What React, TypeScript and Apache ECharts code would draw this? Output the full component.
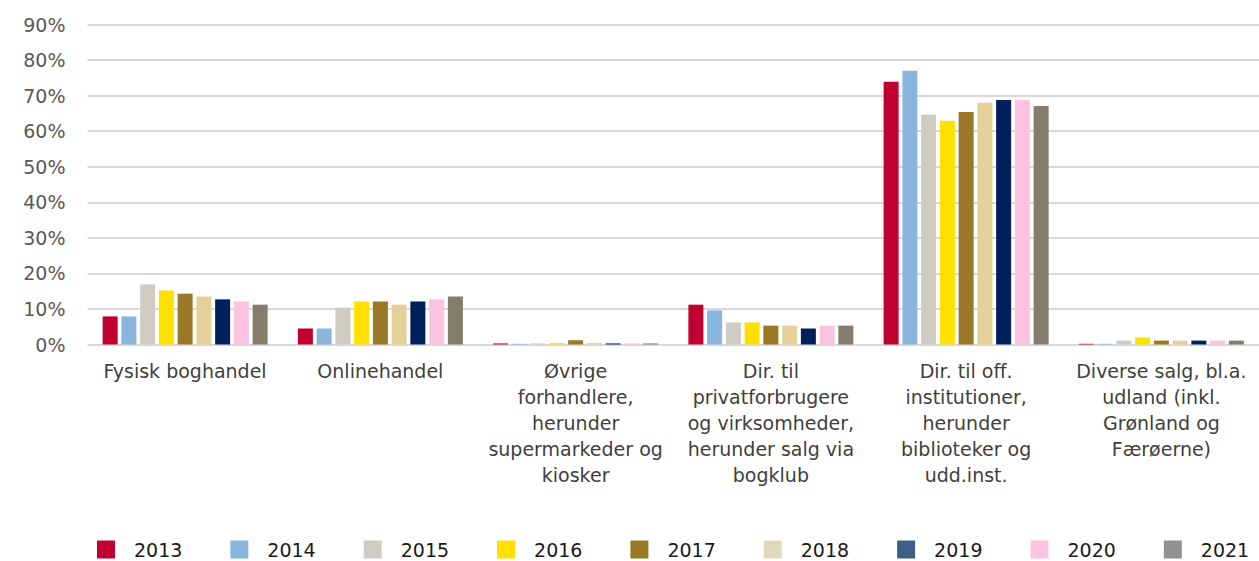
import React, { useEffect, useRef } from "react";
import * as echarts from "echarts";

const categories = [
  "Fysisk boghandel",
  "Onlinehandel",
  "Øvrige\nforhandlere,\nherunder\nsupermarkeder og\nkiosker",
  "Dir. til\nprivatforbrugere\nog virksomheder,\nherunder salg via\nbogklub",
  "Dir. til off.\ninstitutioner,\nherunder\nbiblioteker og\nudd.inst.",
  "Diverse salg, bl.a.\nudland (inkl.\nGrønland og\nFærøerne)",
];

const years = ["2013", "2014", "2015", "2016", "2017", "2018", "2019", "2020", "2021"];

const values2013 = [7.9, 4.5, 0.3, 11.2, 73.9, 0.2];
const values2014 = [7.9, 4.5, 0.2, 9.6, 77.0, 0.2];
const values2015 = [16.9, 10.4, 0.3, 6.2, 64.6, 1.1];
const values2016 = [15.2, 12.1, 0.4, 6.2, 62.9, 2.0];
const values2017 = [14.3, 12.1, 1.2, 5.3, 65.4, 1.1];
const values2018 = [13.5, 11.2, 0.4, 5.3, 68.0, 1.1];
const values2019 = [12.7, 12.1, 0.3, 4.5, 68.8, 1.1];
const values2020 = [12.1, 12.7, 0.3, 5.3, 68.8, 1.1];
const values2021 = [11.2, 13.5, 0.3, 5.3, 67.1, 1.1];

const seriesValues = [
  values2013, values2014, values2015, values2016, values2017,
  values2018, values2019, values2020, values2021,
];

const barColors = [
  "#c0002e", "#89b6df", "#cfccc4", "#ffe000", "#9b7825",
  "#e6d09a", "#00205c", "#fec3e1", "#857c6c",
];
const legendColors = [
  "#c0002e", "#89b6df", "#cfccc4", "#ffe000", "#9b7825",
  "#e1d8bd", "#3e5f85", "#fec3e1", "#919191",
];

const yTicks = [0, 10, 20, 30, 40, 50, 60, 70, 80, 90];

export default function App() {
  const ref = useRef<HTMLDivElement>(null);
  useEffect(() => {
    if (!ref.current) return;
    const chart = echarts.init(ref.current, undefined, { renderer: "svg" });
    const font = "DejaVu Sans";
    chart.setOption({
      animation: false,
      backgroundColor: "#ffffff",
      textStyle: { fontFamily: font },
      grid: { left: 87.5, right: -4.5, top: 24.5, bottom: 216.5, containLabel: false },
      legend: {
        left: 97,
        top: 540,
        padding: 0,
        itemWidth: 18,
        itemHeight: 18,
        itemGap: 48,
        icon: "rect",
        textStyle: { fontFamily: font, fontSize: 19, color: "#1a1a1a", padding: [0, 0, 0, 14] },
        data: years.map((y, i) => ({ name: y, itemStyle: { color: legendColors[i] } })),
      },
      xAxis: {
        type: "category",
        data: categories,
        axisLine: { show: false },
        axisTick: { show: false },
        axisLabel: {
          interval: 0,
          margin: 13,
          fontFamily: font,
          fontSize: 19,
          lineHeight: 26,
          color: "#404040",
          align: "center",
        },
      },
      yAxis: {
        type: "value",
        min: yTicks[0],
        max: yTicks[yTicks.length - 1],
        interval: 10,
        axisLine: { show: false },
        axisTick: { show: false },
        axisLabel: {
          formatter: "{value}%",
          margin: 22,
          fontFamily: font,
          fontSize: 19,
          color: "#595959",
        },
        splitLine: { lineStyle: { color: "#d9d9d9", width: 2 } },
      },
      series: years.map((y, i) => ({
        name: y,
        type: "bar",
        data: seriesValues[i],
        barWidth: 15,
        barGap: "25%",
        itemStyle: { color: barColors[i] },
      })),
    });
    return () => chart.dispose();
  }, []);
  return (
    <div
      ref={ref}
      style={{ position: "fixed", left: 0, top: 0, width: 1259, height: 561 }}
    />
  );
}
